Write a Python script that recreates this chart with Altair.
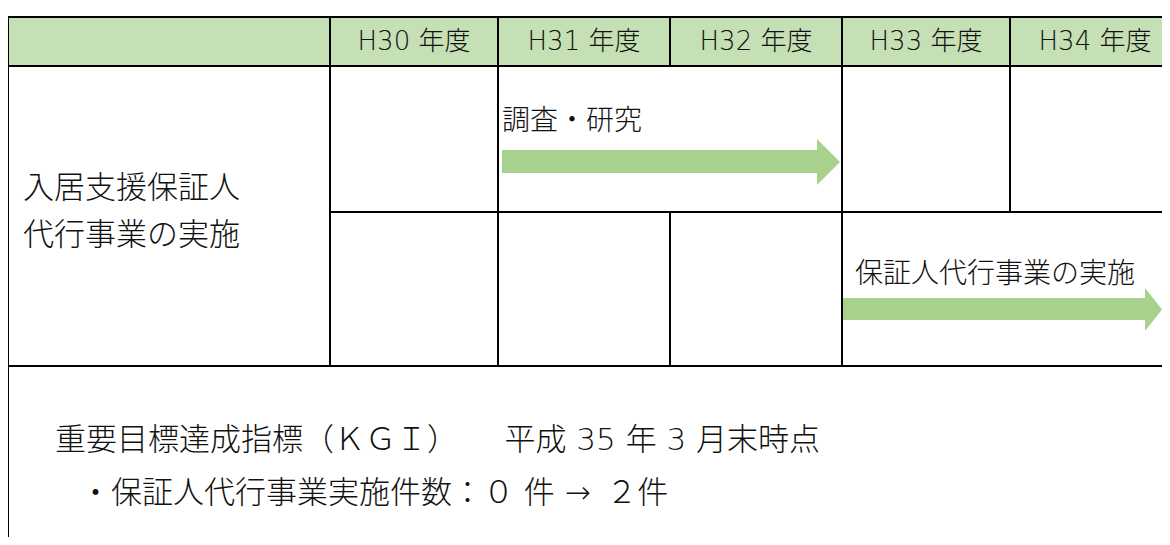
import altair as alt
import pandas as pd

# ---------------- data ----------------
years = ["H30 年度", "H31 年度", "H32 年度", "H33 年度", "H34 年度"]
row_label = ["入居支援保証人", "代行事業の実施"]
tasks = ["調査・研究", "保証人代行事業の実施"]
task_start_col = [1, 3]   # index into years
task_end_col = [2, 4]     # inclusive
kgi_lines = ["重要目標達成指標（ＫＧＩ）　　平成 35 年 3 月末時点",
             "・保証人代行事業実施件数：０ 件 →\u2002２件"]

# ---------------- layout (pixels) ----------------
W, H = 1154, 529
left = 8
col_edges = [330, 498, 670, 842, 1010, 1180]
top, head_bot, mid_row, row_bot, bottom = 17, 66, 212, 366, 545
FONT = "DejaVu Sans, Noto Sans CJK JP"
TXT = "#111111"
GREEN_HEAD = "#C5E0B4"
GREEN_ARROW = "#A9D18E"
WEIGHT = 300

xs = alt.Scale(domain=[left, left + W], nice=False, zero=False)
ys = alt.Scale(domain=[left, left + H], nice=False, zero=False, reverse=True)


def X(f="x:Q"):
    return alt.X(f, scale=xs, axis=None)


def Y(f="y:Q"):
    return alt.Y(f, scale=ys, axis=None)


# header background
hdr = pd.DataFrame([{"x": left, "x2": col_edges[-1], "y": top, "y2": head_bot}])
header_bg = alt.Chart(hdr).mark_rect(color=GREEN_HEAD).encode(
    x=X(), x2="x2:Q", y=Y(), y2="y2:Q")

# grid lines
lines = [
    (left, col_edges[-1], top, top),
    (left, col_edges[-1], head_bot, head_bot),
    (col_edges[0], col_edges[-1], mid_row, mid_row),
    (left, col_edges[-1], row_bot, row_bot),
    (left, left, top, bottom),
    (col_edges[0], col_edges[0], top, row_bot),
    (col_edges[1], col_edges[1], top, row_bot),
    (col_edges[2], col_edges[2], top, head_bot),
    (col_edges[2], col_edges[2], mid_row, row_bot),
    (col_edges[3], col_edges[3], top, row_bot),
    (col_edges[4], col_edges[4], top, mid_row),
]
ldf = pd.DataFrame(lines, columns=["x", "x2", "y", "y2"])
grid = alt.Chart(ldf).mark_rule(color="black", strokeWidth=2).encode(
    x=X(), x2="x2:Q", y=Y(), y2="y2:Q")

# header texts
hdf = pd.DataFrame({
    "t": years,
    "x": [(col_edges[i] + col_edges[i + 1]) / 2 for i in range(5)],
    "y": [42] * 5,
})
header_txt = alt.Chart(hdf).mark_text(font=FONT, fontSize=26, fontWeight=WEIGHT,
                                      align="center", baseline="middle", color=TXT).encode(
    x=X(), y=Y(), text="t:N")

# row label
rdf = pd.DataFrame({"t": row_label, "x": [23, 23], "y": [189, 236]})
row_txt = alt.Chart(rdf).mark_text(font=FONT, fontSize=31, fontWeight=WEIGHT, align="left",
                                   baseline="middle", color=TXT).encode(
    x=X(), y=Y(), text="t:N")

# arrows
shaft_y = [(150, 173), (298, 320)]
head_y = [(139, 185), (288, 331)]
x_start = [502, 841]
head_x = [817, 1145]
tip_x = [840, 1162]
label_xy = [(502, 122), (855, 275)]

shaft_rows, head_rows, lab_rows = [], [], []
for i, t in enumerate(tasks):
    shaft_rows.append({"a": t, "x": x_start[i], "x2": head_x[i],
                       "y": shaft_y[i][0], "y2": shaft_y[i][1]})
    mid = (head_y[i][0] + head_y[i][1]) / 2
    head_rows.append({"a": t, "x": head_x[i], "y": head_y[i][0], "y2": head_y[i][1]})
    head_rows.append({"a": t, "x": tip_x[i], "y": mid, "y2": mid})
    lab_rows.append({"a": t, "x": label_xy[i][0], "y": label_xy[i][1]})

shafts = alt.Chart(pd.DataFrame(shaft_rows)).mark_rect(color=GREEN_ARROW).encode(
    x=X(), x2="x2:Q", y=Y(), y2="y2:Q")
heads = alt.Chart(pd.DataFrame(head_rows)).mark_area(
    color=GREEN_ARROW, orient="vertical", interpolate="linear").encode(
    x=X(), y=Y(), y2="y2:Q", detail="a:N")
labels = alt.Chart(pd.DataFrame(lab_rows)).mark_text(
    font=FONT, fontSize=28, fontWeight=WEIGHT, align="left", baseline="middle",
    color=TXT).encode(x=X(), y=Y(), text="a:N")

# KGI text
kdf = pd.DataFrame({"t": kgi_lines, "x": [55, 80], "y": [441, 494]})
kgi = alt.Chart(kdf).mark_text(font=FONT, fontSize=31, fontWeight=WEIGHT, align="left",
                               baseline="middle", color=TXT).encode(
    x=X(), y=Y(), text="t:N")

chart = alt.layer(header_bg, shafts, heads, grid, header_txt, row_txt, labels, kgi).properties(
    width=W, height=H, padding=0, autosize=alt.AutoSizeParams(type="none"),
    background="white"
).configure_view(strokeWidth=0)

chart.save("out.html", embed_options={"renderer": "svg", "actions": False})
